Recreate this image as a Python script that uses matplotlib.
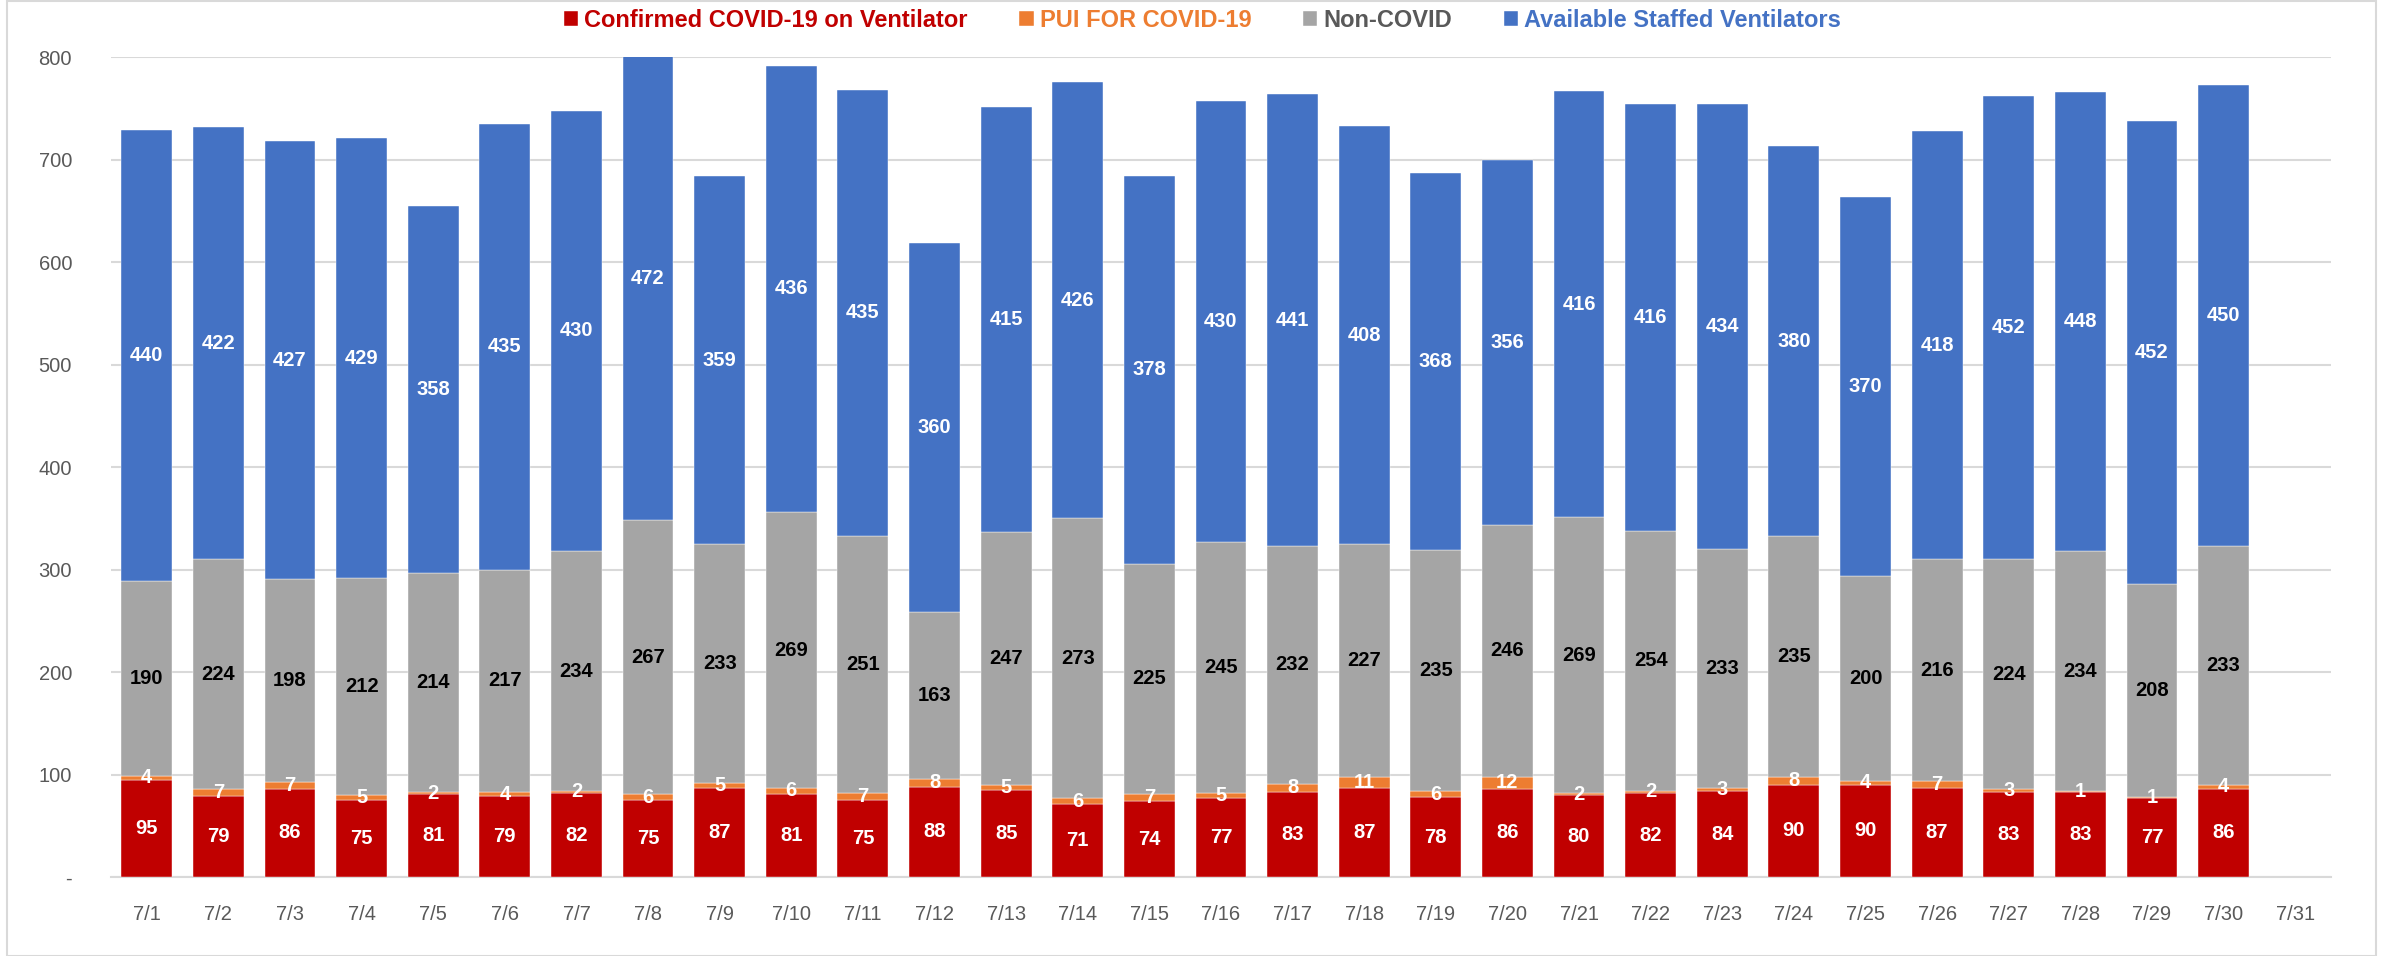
import matplotlib
matplotlib.use("Agg")
import matplotlib.pyplot as plt
import numpy as np
from matplotlib.patches import Rectangle

plt.rcParams['font.family'] = ['Liberation Sans', 'DejaVu Sans']

dates = ['7/%d' % d for d in range(1, 32)]

confirmed = [95, 79, 86, 75, 81, 79, 82, 75, 87, 81, 75, 88, 85, 71, 74,
             77, 83, 87, 78, 86, 80, 82, 84, 90, 90, 87, 83, 83, 77, 86]
pui = [4, 7, 7, 5, 2, 4, 2, 6, 5, 6, 7, 8, 5, 6, 7,
       5, 8, 11, 6, 12, 2, 2, 3, 8, 4, 7, 3, 1, 1, 4]
non_covid = [190, 224, 198, 212, 214, 217, 234, 267, 233, 269, 251, 163, 247, 273, 225,
             245, 232, 227, 235, 246, 269, 254, 233, 235, 200, 216, 224, 234, 208, 233]
available = [440, 422, 427, 429, 358, 435, 430, 472, 359, 436, 435, 360, 415, 426, 378,
             430, 441, 408, 368, 356, 416, 416, 434, 380, 370, 418, 452, 448, 452, 450]

names = ['Confirmed COVID-19 on Ventilator', 'PUI FOR COVID-19', 'Non-COVID',
         'Available Staffed Ventilators']
colors = ['#C00000', '#ED7D31', '#A5A5A5', '#4472C4']
label_colors = ['white', 'white', 'black', 'white']

fig = plt.figure(figsize=(23.81, 9.56), dpi=100)
ax = fig.add_axes([0.0466, 0.0826, 0.9324, 0.8574])

x = np.arange(len(confirmed))
bottom = np.zeros(len(confirmed))
handles = []
for vals, name, c, lc in zip([confirmed, pui, non_covid, available], names, colors, label_colors):
    vals = np.array(vals)
    b = ax.bar(x, vals, 0.71, bottom=bottom, color=c, label=name, zorder=3,
               edgecolor='white', linewidth=0.3)
    handles.append(b)
    for xi, v, bt in zip(x, vals, bottom):
        yc = bt + v / 2
        ax.text(xi, min(yc, 790), str(v), ha='center', va='center', color=lc,
                fontsize=14.5, fontweight='bold', zorder=4)
    bottom = bottom + vals

ax.set_xlim(-0.5, 30.5)
ax.set_ylim(0, 800)
ax.set_xticks(np.arange(len(dates)))
ax.set_xticklabels(dates)
ax.set_yticks(np.arange(0, 801, 100))
ax.set_yticklabels(['-'] + [str(v) for v in range(100, 801, 100)])
ax.tick_params(axis='both', length=0, labelsize=14.5, colors='#595959')
ax.tick_params(axis='x', pad=20)
ax.tick_params(axis='y', pad=28)
ax.grid(axis='y', color='#D9D9D9', linewidth=1.5, zorder=0)
for s in ['top', 'right', 'left']:
    ax.spines[s].set_visible(False)
ax.spines['bottom'].set_color('#D9D9D9')
ax.spines['bottom'].set_linewidth(1.5)

leg = fig.legend(handles=handles, loc='upper center', bbox_to_anchor=(0.505, 1.013),
                 ncol=4, frameon=False, fontsize=17, handlelength=0.6, handleheight=0.6,
                 handletextpad=0.25, columnspacing=2.2)
for t, c in zip(leg.get_texts(), colors):
    t.set_color(c if c != '#A5A5A5' else '#595959')
    t.set_fontweight('bold')

fig.patches.append(Rectangle((0.003, 0.0), 0.995, 0.999, transform=fig.transFigure,
                             fill=False, edgecolor='#D9D9D9', linewidth=1.5))

fig.savefig('out.png', dpi=100)
